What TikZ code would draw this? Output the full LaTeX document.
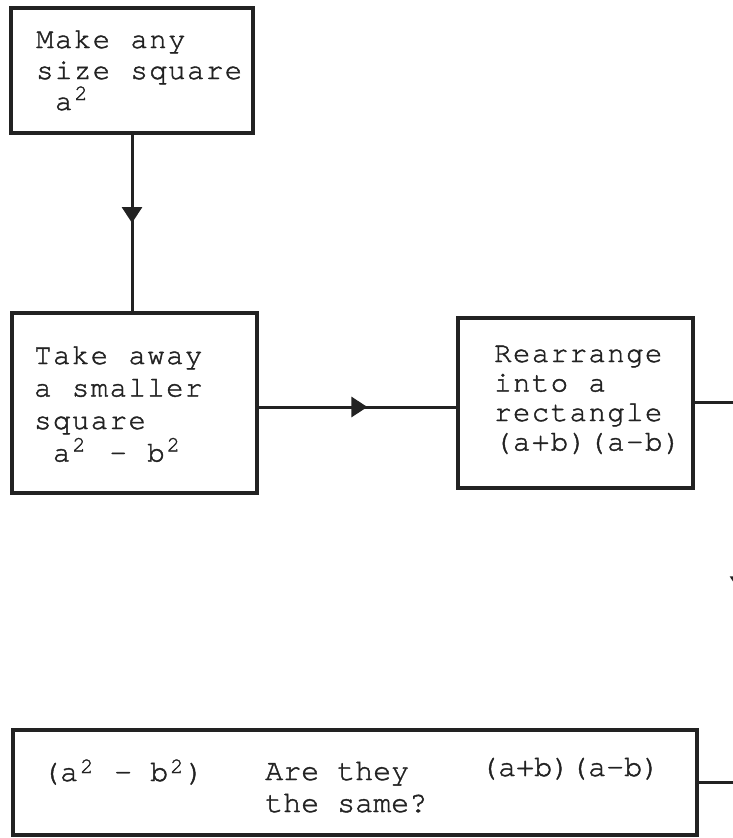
\documentclass[tikz,border=0pt]{standalone}
\usepackage{fontspec}
\usetikzlibrary{arrows.meta,decorations.markings}
\newfontfamily\twA[LetterSpace=5,WordSpace=1.08,FakeBold=1.4]{TeX Gyre Cursor}
\newfontfamily\twB[FakeBold=1.4]{TeX Gyre Cursor}
\newcommand\tcol{\hspace*{18.8pt}}
\newcommand\tsupA[1]{\makebox[18.8pt][l]{\hspace{2pt}\raisebox{10pt}{\fontsize{22}{22}\selectfont #1}}}
\newcommand\tsupB[1]{\makebox[18pt][l]{\hspace{2pt}\raisebox{8pt}{\fontsize{22}{22}\selectfont #1}}}
\definecolor{ink}{HTML}{222222}
\begin{document}
\begin{tikzpicture}[x=1pt,y=-1pt,
  box/.style={draw=ink,line width=3.2pt,rectangle,inner sep=0pt},
  txt/.style={anchor=base west,inner sep=0pt,align=left,text=ink},
  fa/.style={font=\twA\fontsize{29}{#1}\selectfont},
  fb/.style={font=\twB\fontsize{30}{#1}\selectfont},
  conn/.style={draw=ink,line width=3pt},
  midarrow/.style={postaction={decorate},decoration={markings,mark=at position #1 with {\arrow{Triangle[width=20pt,length=16pt]}}}}]
\useasboundingbox (0,0) rectangle (733,838);
\clip (0,0) rectangle (733,838);
\fill[white] (0,0) rectangle (733,838);

% boxes
\node[box,minimum width=242pt,minimum height=125pt] (b1) at (132,70.5) {};
\node[box,minimum width=245pt,minimum height=180pt] (b2) at (134.5,403) {};
\node[box,minimum width=235pt,minimum height=170pt] (b3) at (575.5,403) {};
\node[box,minimum width=684pt,minimum height=105pt] (b4) at (355,782.5) {};

% texts (anchor = baseline of the last line)
\node[txt,fa=31pt] (t1) at (36,110) {Make any\\size square\\\tcol a\tsupA{2}};
\node[txt,fa=32.5pt] (t2) at (34,461.5) {Take away\\a smaller\\square\\\tcol a\tsupA{2} - b\tsupA{2}};
\node[txt,fa=29.5pt] (t3) at (494,450.5) {Rearrange\\into a\\rectangle\\(a+b)(a-b)};
\node[txt,fb=32pt] (t4a) at (42,781) {(a\tsupB{2} - b\tsupB{2})};
\node[txt,fb=32pt] (t4b) at (265,812) {Are they\\the same?};
\node[txt,fb=32pt] (t4c) at (480,776) {(a+b)(a-b)};

% off-frame right edge
\coordinate (r1) at (740,402);
\coordinate (r2) at (740,782.5);

% connectors
\draw[conn,midarrow=0.5] (b1.south) -- (b1.south |- b2.north);
\draw[conn,midarrow=0.55] ([yshift=-4pt]b2.east) -- ([yshift=-4pt]b2.east -| b3.west);
\draw[conn] ([yshift=1pt]b3.east) -- (r1);
\draw[conn,midarrow=0.5] (r1) -- (r2);
\draw[conn] (r2) -- (b4.east);
\end{tikzpicture}
\end{document}
